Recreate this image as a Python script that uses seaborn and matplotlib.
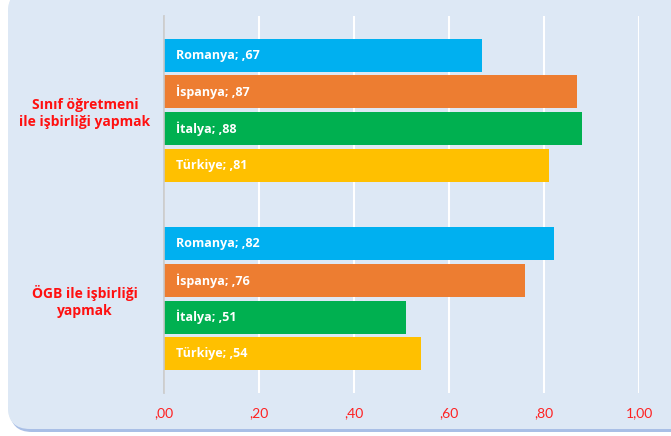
import numpy as np
import pandas as pd
import matplotlib
matplotlib.use("Agg")
import matplotlib.pyplot as plt
from matplotlib.patches import FancyBboxPatch
from matplotlib.ticker import FuncFormatter
import seaborn as sns

# data
groups = ["Sınıf öğretmeni\nile işbirliği yapmak", "ÖGB ile işbirliği\nyapmak"]
countries = ["Romanya", "İspanya", "İtalya", "Türkiye"]
values_group1 = [0.67, 0.87, 0.88, 0.81]
values_group2 = [0.82, 0.76, 0.51, 0.54]
colors = ["#00b0f0", "#ed7d31", "#00b050", "#ffc000"]

rows = []
for g, vals in zip(groups, [values_group1, values_group2]):
    for c, v in zip(countries, vals):
        rows.append({"group": g, "country": c, "value": v})
df = pd.DataFrame(rows)

sns.set_style("white")
fig = plt.figure(figsize=(6.71, 4.36), dpi=100)
fig.patch.set_facecolor("white")

# rounded light-blue panel behind the chart
bg = fig.add_axes([0, 0, 1, 1], zorder=-1)
bg.set_xlim(0, 671)
bg.set_ylim(436, 0)
bg.axis("off")
shadow = FancyBboxPatch((10, -10), 700, 442, boxstyle="round,pad=0,rounding_size=22",
                        facecolor="#a9bfe6", edgecolor="none")
bg.add_patch(shadow)
panel = FancyBboxPatch((8, -10), 700, 439, boxstyle="round,pad=0,rounding_size=22",
                       facecolor="#dde8f5", edgecolor="none")
bg.add_patch(panel)
yy, xx = np.mgrid[0:1:200j, 0:1:300j]
grad = np.sqrt(((xx - 0.45) / 0.9) ** 2 + ((yy - 0.6) / 0.9) ** 2)
cmap = matplotlib.colors.LinearSegmentedColormap.from_list("bgc", ["#edf3fa", "#dbe7f4"])
im = bg.imshow(grad, cmap=cmap, extent=(8, 680, 429, -10), aspect="auto", vmin=0, vmax=0.6)
im.set_clip_path(panel)

ax = fig.add_axes([164 / 671, 1 - 393 / 436, (639 - 164) / 671, (393 - 16) / 436])
ax.set_facecolor("none")
sns.barplot(data=df, x="value", y="group", hue="country", palette=colors,
            orient="h", width=0.78, gap=0.1, ax=ax, legend=False, saturation=1,
            linewidth=0)

# labels inside the bars
for cont, c in zip(ax.containers, countries):
    i = countries.index(c)
    for bar, v in zip(cont, [values_group1[i], values_group2[i]]):
        lab = f"{c}; ,{int(round(v * 100)):02d}"
        ax.text(bar.get_x() + 0.025, bar.get_y() + bar.get_height() / 2, lab,
                color="white", fontweight="bold", fontsize=9, va="center", ha="left",
                family="Open Sans")

ax.set_xlim(0, 1.0)
ax.set_xticks(np.arange(0, 1.01, 0.2))

def fmt(v, pos):
    s = f"{v:.2f}".replace(".", ",")
    if s.startswith("0,"):
        s = s[1:]
    return s

ax.xaxis.set_major_formatter(FuncFormatter(fmt))
ax.grid(axis="x", color="white", linewidth=1.5)
ax.set_axisbelow(True)
for s in ["top", "right", "bottom"]:
    ax.spines[s].set_visible(False)
ax.spines["left"].set_color("#c8c8c8")
ax.spines["left"].set_linewidth(1.2)
ax.set_xlabel("")
ax.set_ylabel("")
ax.tick_params(axis="x", length=0, pad=10, labelcolor="#ff2020", labelsize=10)
ax.tick_params(axis="y", length=0, pad=57, labelcolor="#ff1010")
for t in ax.get_xticklabels():
    t.set_family("Lato")
for t in ax.get_yticklabels():
    t.set_ha("center")
    t.set_multialignment("center")
    t.set_fontweight("bold")
    t.set_fontsize(10)
    t.set_family("Open Sans")
    t.set_linespacing(1.28)

fig.savefig("out.png", dpi=100)
